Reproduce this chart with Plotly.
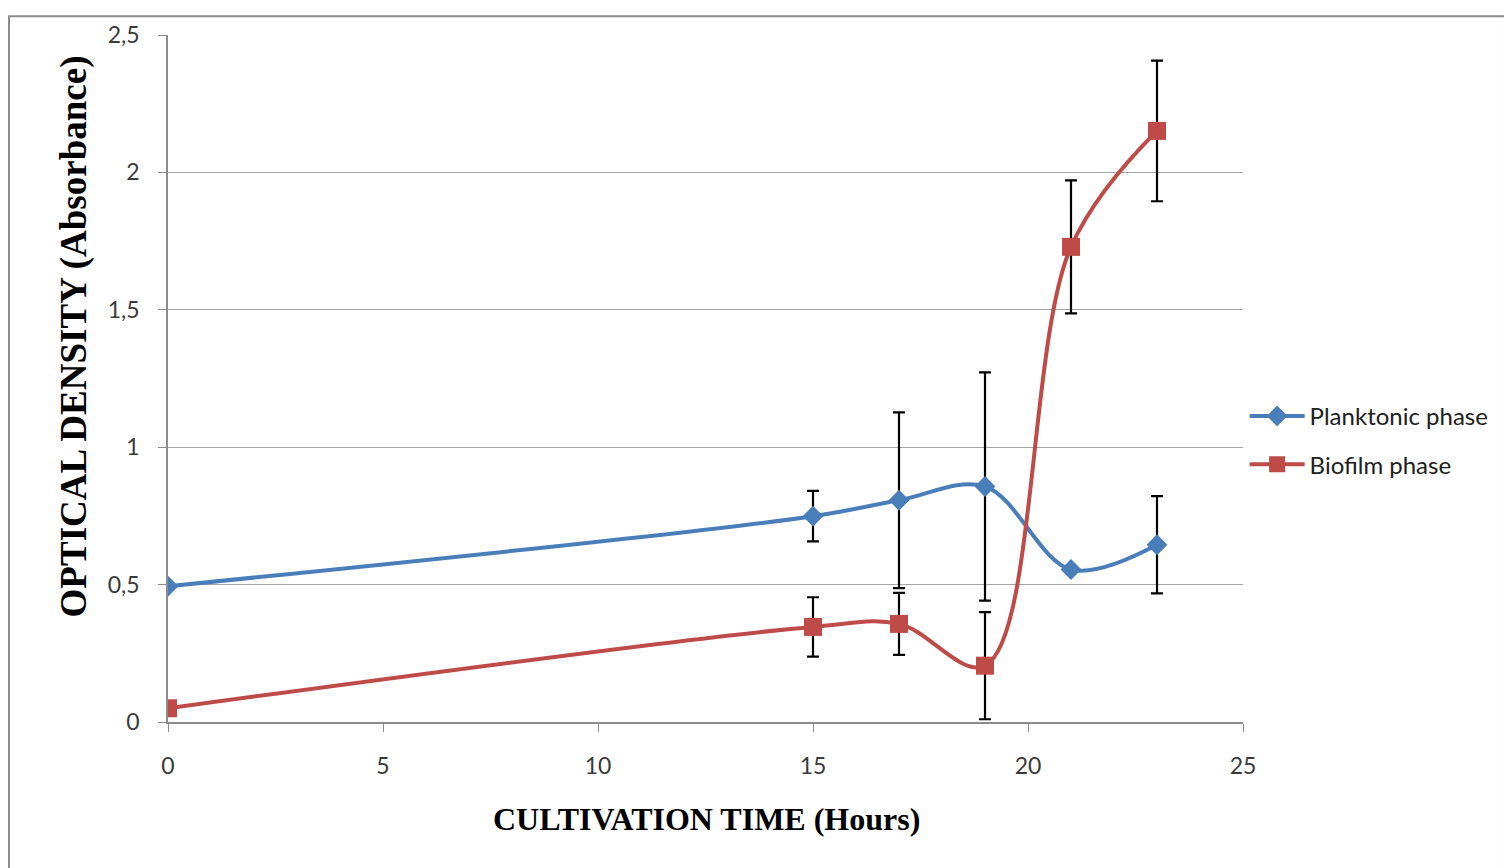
import plotly.graph_objects as go

time_h = [0, 15, 17, 19, 21, 23]
planktonic = [0.494, 0.749, 0.807, 0.857, 0.555, 0.645]
planktonic_err = [0.0, 0.092, 0.32, 0.415, 0.012, 0.177]
biofilm = [0.05, 0.346, 0.357, 0.205, 1.729, 2.151]
biofilm_err = [0.0, 0.108, 0.113, 0.195, 0.242, 0.256]

y_ticks = [0, 0.5, 1, 1.5, 2, 2.5]
y_tick_labels = ["0", "0,5", "1", "1,5", "2", "2,5"]
x_ticks = [0, 5, 10, 15, 20, 25]

BLUE = "#4A7EBB"
RED = "#BE4B48"

fig = go.Figure()
fig.add_trace(go.Scatter(
    x=time_h, y=planktonic, name="Planktonic phase", legendgroup="a",
    mode="lines+markers",
    line=dict(color=BLUE, width=4, shape="spline", smoothing=1.0),
    marker=dict(symbol="diamond", size=16, color=BLUE),
    error_y=dict(type="data", array=planktonic_err, color="black", thickness=2.2, width=6),
))
fig.add_trace(go.Scatter(
    x=time_h, y=biofilm, name="Biofilm phase", legendgroup="b",
    mode="lines+markers",
    line=dict(color=RED, width=4, shape="spline", smoothing=1.0),
    marker=dict(symbol="square", size=18, color=RED),
    error_y=dict(type="data", array=biofilm_err, color="black", thickness=2.2, width=6),
))

tick_font = dict(family="Lato, Open Sans, sans-serif", size=23, color="#3a3a3a")

fig.update_layout(
    width=1504, height=860,
    margin=dict(l=160, r=269, t=20, b=146),
    paper_bgcolor="white", plot_bgcolor="white",
    showlegend=True,
    legend=dict(x=1.0015, y=0.41, xanchor="left", yanchor="middle",
                font=dict(family="Lato, Open Sans, sans-serif", size=24, color="#202020"),
                tracegroupgap=14, traceorder="grouped", itemwidth=55,
                bgcolor="rgba(0,0,0,0)"),
    xaxis=dict(range=[0, 25], tickvals=x_ticks, showgrid=False, zeroline=False,
               showline=True, linecolor="#8c8c8c", linewidth=1.5,
               ticks="outside", ticklen=8, tickcolor="#8c8c8c", tickfont=tick_font,
               ticklabelstandoff=15, fixedrange=True),
    yaxis=dict(range=[0, 2.5], tickvals=y_ticks, ticktext=y_tick_labels,
               showgrid=True, gridcolor="#a6a6a6", gridwidth=1.3, zeroline=False,
               showline=True, linecolor="#8c8c8c", linewidth=1.5,
               ticks="outside", ticklen=8, tickcolor="#8c8c8c", tickfont=tick_font,
               ticklabelstandoff=14, fixedrange=True),
    annotations=[
        dict(text="<b>CULTIVATION TIME (Hours)</b>", xref="paper", yref="paper",
             x=0.5005, y=-0.141, xanchor="center", yanchor="middle", showarrow=False,
             font=dict(family="Liberation Serif, Times New Roman, serif", size=32, color="black")),
        dict(text="<b>OPTICAL DENSITY (Absorbance)</b>", xref="paper", yref="paper",
             x=-0.0876, y=0.561, xanchor="center", yanchor="middle", showarrow=False,
             textangle=-90,
             font=dict(family="Liberation Serif, Times New Roman, serif", size=37, color="black")),
    ],
    shapes=[
        dict(type="rect", xref="paper", yref="paper", x0=-0.1479, x1=1.2437, y0=-0.25, y1=1.0274,
             line=dict(color="#8c8c8c", width=2), fillcolor="rgba(0,0,0,0)", layer="below"),
    ],
)

fig.write_html("out.html")
